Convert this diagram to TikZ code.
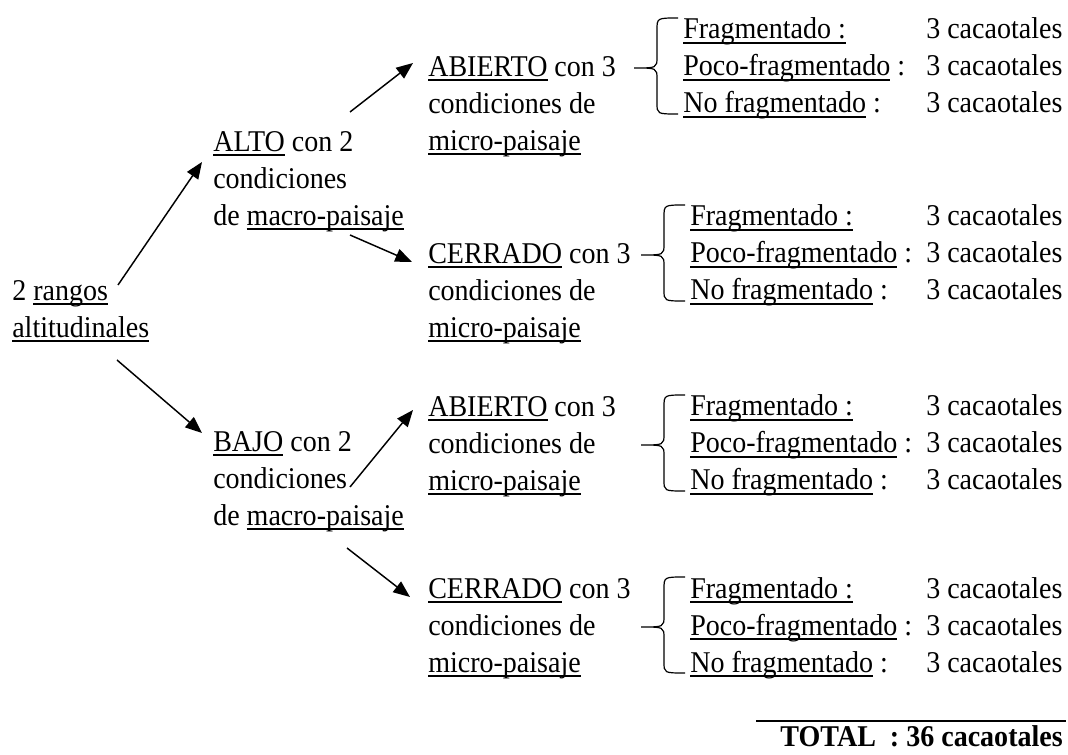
\documentclass[tikz,border=0pt]{standalone}
\usepackage{fontspec}
\setmainfont{Liberation Serif}[FakeStretch=0.93]
\usetikzlibrary{arrows.meta}

\newcommand{\subrayar}[1]{\leavevmode\setbox0\hbox{#1}\rlap{\rule[-3.6pt]{\wd0}{1.2pt}}\box0\relax}

\tikzset{
  bloque/.style={anchor=north west, inner sep=0pt, align=left},
  fila/.style={anchor=base west, inner sep=0pt},
  flecha/.style={-{Triangle[length=12.5pt,width=10pt]}, line width=1.1pt},
  llave/.style={line width=0.9pt},
}

\begin{document}
\begin{tikzpicture}[x=0.75pt, y=-0.75pt, font=\fontsize{22.6}{27.75}\selectfont]
  \useasboundingbox (0,0) rectangle (1068,755);

  % bloques de texto
  \node[bloque] (rangos)   at (12,274)  {\strut 2 \subrayar{rangos}\\\subrayar{altitudinales}};
  \node[bloque] (alto)     at (213,125) {\strut\subrayar{ALTO} con 2\\condiciones\\de \subrayar{macro-paisaje}};
  \node[bloque] (bajo)     at (213,425) {\strut\subrayar{BAJO} con 2\\condiciones\\de \subrayar{macro-paisaje}};
  \node[bloque] (abierto1) at (428,50)  {\strut\subrayar{ABIERTO} con 3\\condiciones de\\\subrayar{micro-paisaje}};
  \node[bloque] (cerrado1) at (428,237) {\strut\subrayar{CERRADO} con 3\\condiciones de\\\subrayar{micro-paisaje}};
  \node[bloque] (abierto2) at (428,390) {\strut\subrayar{ABIERTO} con 3\\condiciones de\\\subrayar{micro-paisaje}};
  \node[bloque] (cerrado2) at (428,572) {\strut\subrayar{CERRADO} con 3\\condiciones de\\\subrayar{micro-paisaje}};

  % flechas
  \draw[flecha] ([shift={(106,11)}]rangos.north west) -- ([shift={(-11,37)}]alto.north west);
  \draw[flecha] ([shift={(105,86)}]rangos.north west) -- ([shift={(-11,8)}]bajo.north west);
  \draw[flecha] ([shift={(137,-13)}]alto.north west)  -- ([shift={(-15,13)}]abierto1.north west);
  \draw[flecha] ([shift={(137,110)}]alto.north west)  -- ([shift={(-16,25)}]cerrado1.north west);
  \draw[flecha] ([shift={(137,62)}]bajo.north west)   -- ([shift={(-15,20)}]abierto2.north west);
  \draw[flecha] ([shift={(134,123)}]bajo.north west)  -- ([shift={(-18,25)}]cerrado2.north west);

  % filas con llave
  \foreach \g/\yb/\xb in {1/39/683, 2/226/690, 3/416/690, 4/598/690} {
    \node[fila] (frag\g) at (\xb,\yb)    {\subrayar{Fragmentado :}};
    \node[fila] (poco\g) at (\xb,\yb+37) {\subrayar{Poco-fragmentado} :};
    \node[fila] (nofr\g) at (\xb,\yb+74) {\subrayar{No fragmentado} :};
    \node[fila] (cacf\g) at (926,\yb)    {3 cacaotales};
    \node[fila] (cacp\g) at (926,\yb+37) {3 cacaotales};
    \node[fila] (cacn\g) at (926,\yb+74) {3 cacaotales};
    \draw[llave, shift={(frag\g.base west)}]
      (-5,-21) .. controls (-26,-21) .. (-26,-9) -- (-26,18)
      .. controls (-26,29) .. (-49,29)
      .. controls (-26,29) .. (-26,40) -- (-26,64)
      .. controls (-26,75) .. (-5,75);
  }

  % total
  \node[anchor=base east, inner sep=0pt, font=\fontsize{22.6}{27.75}\selectfont\bfseries] (total) at (1063,746) {TOTAL\ \ : 36 cacaotales};
  \draw[line width=1pt] ([shift={(-24,-25)}]total.base west) -- ([shift={(3,-25)}]total.base east);
\end{tikzpicture}
\end{document}
